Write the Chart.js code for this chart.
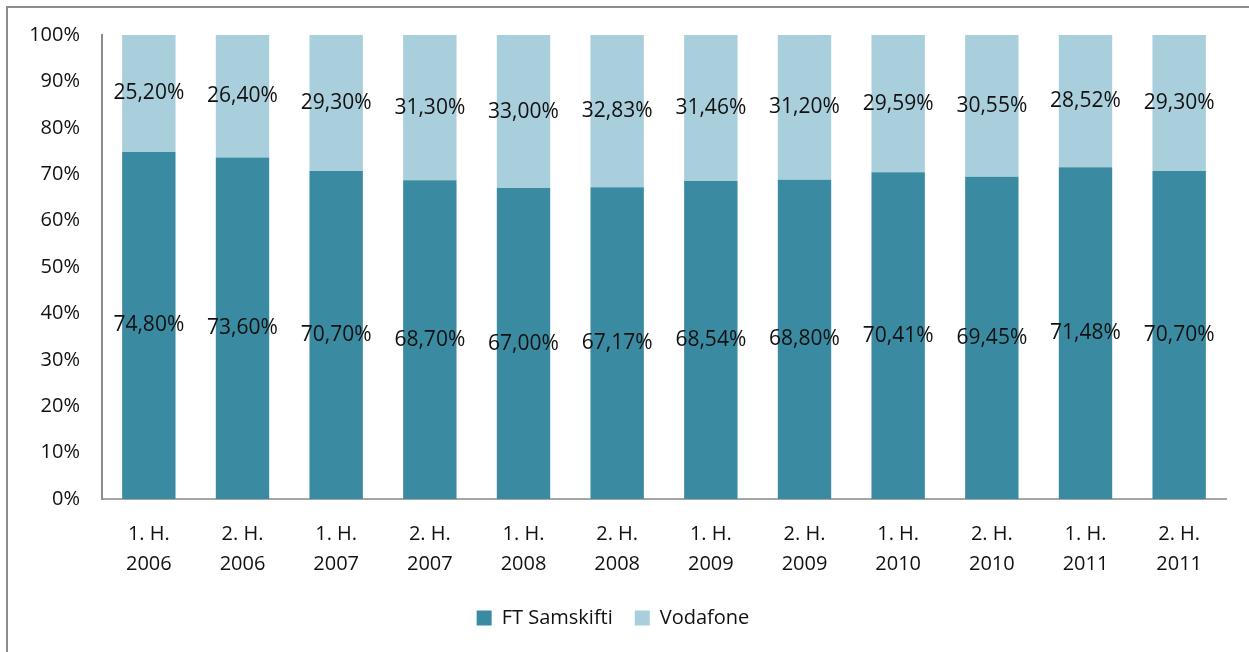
<!DOCTYPE html>
<html>
<head>
<meta charset="utf-8">
<script src="https://cdn.jsdelivr.net/npm/chart.js@4/dist/chart.umd.min.js"></script>
<style>
  html, body { margin: 0; padding: 0; background: #fff; overflow: hidden; }
  #frame { position: absolute; left: 6px; top: 6px; width: 1300px; height: 700px; border: 2px solid #8c8c8c; box-sizing: border-box; }
  #wrap { position: absolute; left: 0; top: 0; width: 1249px; height: 652px; }
</style>
</head>
<body>
<div id="frame"></div>
<div id="wrap"><canvas id="chart" width="1249" height="652"></canvas></div>
<script>
// periodar
var periodar = ['1. H.', '2. H.', '1. H.', '2. H.', '1. H.', '2. H.', '1. H.', '2. H.', '1. H.', '2. H.', '1. H.', '2. H.'];
var ar = ['2006', '2006', '2007', '2007', '2008', '2008', '2009', '2009', '2010', '2010', '2011', '2011'];

// partar í %
var ftSamskifti = [74.80, 73.60, 70.70, 68.70, 67.00, 67.17, 68.54, 68.80, 70.41, 69.45, 71.48, 70.70];
var vodafone = [25.20, 26.40, 29.30, 31.30, 33.00, 32.83, 31.46, 31.20, 29.59, 30.55, 28.52, 29.30];

var yTicks = [0, 10, 20, 30, 40, 50, 60, 70, 80, 90, 100];

var labels = periodar.map(function (p, i) { return [p, ar[i]]; });

var fontFamily = "'Open Sans', 'Noto Sans', sans-serif";

// skriva virðini inni í súlunum
var virdiPlugin = {
    id: 'virdi',
    afterDatasetsDraw: function (chart) {
        var ctx = chart.ctx;
        ctx.save();
        ctx.font = '21px ' + fontFamily;
        ctx.fillStyle = '#111';
        ctx.textAlign = 'center';
        ctx.textBaseline = 'middle';
        chart.data.datasets.forEach(function (ds, di) {
            var meta = chart.getDatasetMeta(di);
            meta.data.forEach(function (bar, i) {
                var mid = (bar.y + bar.base) / 2;
                var txt = ds.data[i].toFixed(2).replace('.', ',') + '%';
                ctx.fillText(txt, bar.x, mid);
            });
        });
        ctx.restore();
    }
};

new Chart(document.getElementById('chart'), {
    type: 'bar',
    data: {
        labels: labels,
        datasets: [{
            label: 'FT Samskifti',
            data: ftSamskifti,
            backgroundColor: '#3a8ba2',
            barPercentage: 0.57,
            categoryPercentage: 1
        }, {
            label: 'Vodafone',
            data: vodafone,
            backgroundColor: '#a9cedc',
            barPercentage: 0.57,
            categoryPercentage: 1
        }]
    },
    options: {
        responsive: false,
        animation: false,
        layout: { padding: { top: 35, right: 23, left: 0, bottom: 14 } },
        plugins: {
            tooltip: { enabled: false },
            legend: {
                position: 'bottom',
                labels: {
                    boxWidth: 15,
                    boxHeight: 15,
                    padding: 22,
                    color: '#111',
                    font: { family: fontFamily, size: 20 }
                }
            }
        },
        scales: {
            x: {
                stacked: true,
                grid: { display: false, drawTicks: false },
                border: { display: true, color: '#a6a6a6', width: 2 },
                ticks: {
                    padding: 20,
                    color: '#111',
                    maxRotation: 0,
                    autoSkip: false,
                    font: { family: fontFamily, size: 20, lineHeight: 1.5 }
                },
                afterFit: function (scale) { scale.height = 87; }
            },
            y: {
                stacked: true,
                min: 0,
                max: 100,
                afterBuildTicks: function (scale) {
                    scale.ticks = yTicks.map(function (v) { return { value: v }; });
                },
                grid: { display: false, drawTicks: false },
                border: { display: true, color: '#8c8c8c', width: 2 },
                ticks: {
                    padding: 22,
                    color: '#111',
                    font: { family: fontFamily, size: 20 },
                    callback: function (v) { return v + '%'; }
                },
                afterFit: function (scale) { scale.width = 102; }
            }
        }
    },
    plugins: [virdiPlugin]
});
</script>
</body>
</html>
